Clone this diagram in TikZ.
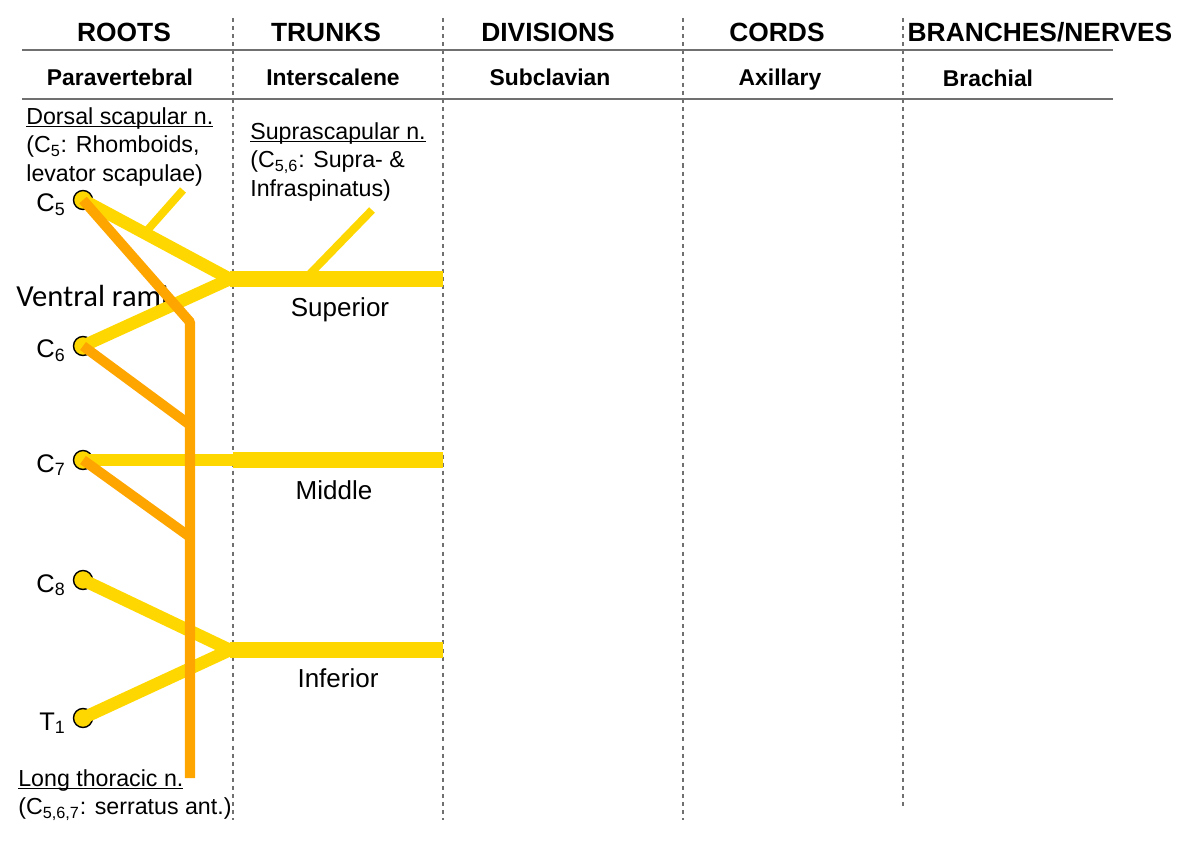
\documentclass[tikz,border=0pt]{standalone}
\usepackage{fontspec}
\setmainfont{Liberation Sans}
\newfontfamily\ramifont{Carlito}
\usetikzlibrary{positioning,calc}
\definecolor{jaune}{HTML}{FFD700}
\definecolor{nerforange}{HTML}{FFA500}
\definecolor{grille}{HTML}{707070}
\newcommand\souligne[1]{\setbox0\hbox{#1}\rlap{\rule[-1.8pt]{\wd0}{0.6pt}}#1}
\begin{document}
\begin{tikzpicture}[line join=bevel,
	titre/.style={font=\bfseries\fontsize{15}{18}\selectfont,anchor=base},
	soustitre/.style={font=\bfseries\fontsize{13}{15.6}\selectfont,anchor=base},
	texte/.style={font=\fontsize{13.2}{16.2}\selectfont,align=left,inner sep=0pt},
	etiquette/.style={font=\fontsize{14.5}{17}\selectfont,inner sep=0pt,anchor=base east},
	tronc/.style={font=\fontsize{14.8}{17.8}\selectfont,anchor=base},
	racine/.style={circle,draw=black,line width=0.8pt,fill=jaune,minimum size=0.38cm,inner sep=0pt},
	jaunefin/.style={draw=jaune,line width=7.1pt},
	jaunegros/.style={draw=jaune,line width=9.1pt},
	rameau/.style={draw=jaune,line width=4.5pt},
	nerf/.style={draw=nerforange,line width=5.7pt},
	grillev/.style={draw=grille,line width=0.85pt,dash pattern=on 2.3pt off 2.3pt},
	grilleh/.style={draw=grille,line width=1.1pt}]
		\useasboundingbox (0,0) rectangle (23.74,16.88) ;
		% grille du tableau
		\foreach \X/\Bas in {4.66/0.48,8.86/0.48,13.66/0.48,18.06/0.70}
		\draw[grillev] (\X,16.52)--(\X,\Bas) ;
		\draw[grilleh] (0.44,15.88)--(22.26,15.88) ;
		\draw[grilleh] (0.44,14.90)--(22.26,14.90) ;
		% en-tetes
		\node[titre] (roots) at (2.48,16.04) {ROOTS} ;
		\node[titre] (trunks) at (6.52,16.04) {TRUNKS} ;
		\node[titre] (divisions) at (10.96,16.04) {DIVISIONS} ;
		\node[titre] (cords) at (15.54,16.04) {CORDS} ;
		\node[titre] (branches) at (20.80,16.04) {BRANCHES/NERVES} ;
		\node[soustitre] (paravert) at (2.40,15.16) {Paravertebral} ;
		\node[soustitre] (interscal) at (6.66,15.16) {Interscalene} ;
		\node[soustitre] (subclav) at (11.00,15.16) {Subclavian} ;
		\node[soustitre] (axill) at (15.60,15.16) {Axillary} ;
		\node[soustitre] (brach) at (19.76,15.14) {Brachial} ;
		% racines C5-T1
		\foreach \Nom/\Y/\Txt in {C5/12.88/C\textsubscript{5},C6/9.96/C\textsubscript{6},C7/7.68/C\textsubscript{7},C8/5.28/C\textsubscript{8},T1/2.52/T\textsubscript{1}}
		{\node[racine] (\Nom) at (1.66,\Y) {} ;
		\node[etiquette] (lab\Nom) at ($(\Nom.center)+(-0.34,-0.24)$) {\Txt} ;}
		\node[anchor=west,inner sep=0pt,font=\ramifont\fontsize{17.4}{20.8}\selectfont] (ventral) at (0.32,10.96) {Ventral rami} ;
		% troncs
		\coordinate (sup) at (4.60,11.30) ;
		\coordinate (supfin) at (8.86,11.30) ;
		\coordinate (moy) at (4.66,7.68) ;
		\coordinate (moyfin) at (8.86,7.68) ;
		\coordinate (inf) at (4.60,3.88) ;
		\coordinate (inffin) at (8.86,3.88) ;
		\coordinate (dsfin) at (3.66,13.08) ;
		\coordinate (ssdebut) at (6.10,11.30) ;
		\coordinate (ssfin) at (7.44,12.68) ;
		\draw[rameau] ($(C5.center)!0.42!(sup)$)--(dsfin) ;%dorsal scap.
		\draw[rameau] (ssdebut)--(ssfin) ;%suprascap.
		\draw[jaunefin] (C5.center)--(sup) ;
		\draw[jaunefin] (C6.center)--(sup) ;
		\draw[jaunegros] (sup)--(supfin) ;
		\draw[jaunefin] (C7.center)--(moy) ;
		\draw[jaunegros] (moy)--(moyfin) ;
		\draw[jaunefin] (C8.center)--(inf) ;
		\draw[jaunefin] (T1.center)--(inf) ;
		\draw[jaunegros] (inf)--(inffin) ;
		% long thoracique
		\coordinate (coude) at (3.80,10.44) ;
		\coordinate (ltfin) at (3.80,1.32) ;
		\coordinate (j6) at (3.80,8.38) ;
		\coordinate (j7) at (3.80,6.14) ;
		\draw[nerf] (C5.center)--(coude)--(ltfin) ;
		\draw[nerf] (C6.center)--(j6) ;
		\draw[nerf] (C7.center)--(j7) ;
		% textes
		\node[tronc] (superior) at (6.80,10.55) {Superior} ;
		\node[tronc] (middle) at (6.68,6.89) {Middle} ;
		\node[tronc] (inferior) at (6.76,3.13) {Inferior} ;
		\node[texte,anchor=north west] (dorsal) at (0.52,14.74) {\souligne{Dorsal scapular n.}\\(C\textsubscript{5}: Rhomboids,\\levator scapulae)} ;
		\node[texte,anchor=north west] (suprascap) at (5.00,14.44) {\souligne{Suprascapular n.}\\(C\textsubscript{5,6}: Supra- \&\\Infraspinatus)} ;
		\node[texte,anchor=north west] (longthor) at (0.36,1.50) {\souligne{Long thoracic n.}\\(C\textsubscript{5,6,7}: serratus ant.)} ;
	\end{tikzpicture}
\end{document}
